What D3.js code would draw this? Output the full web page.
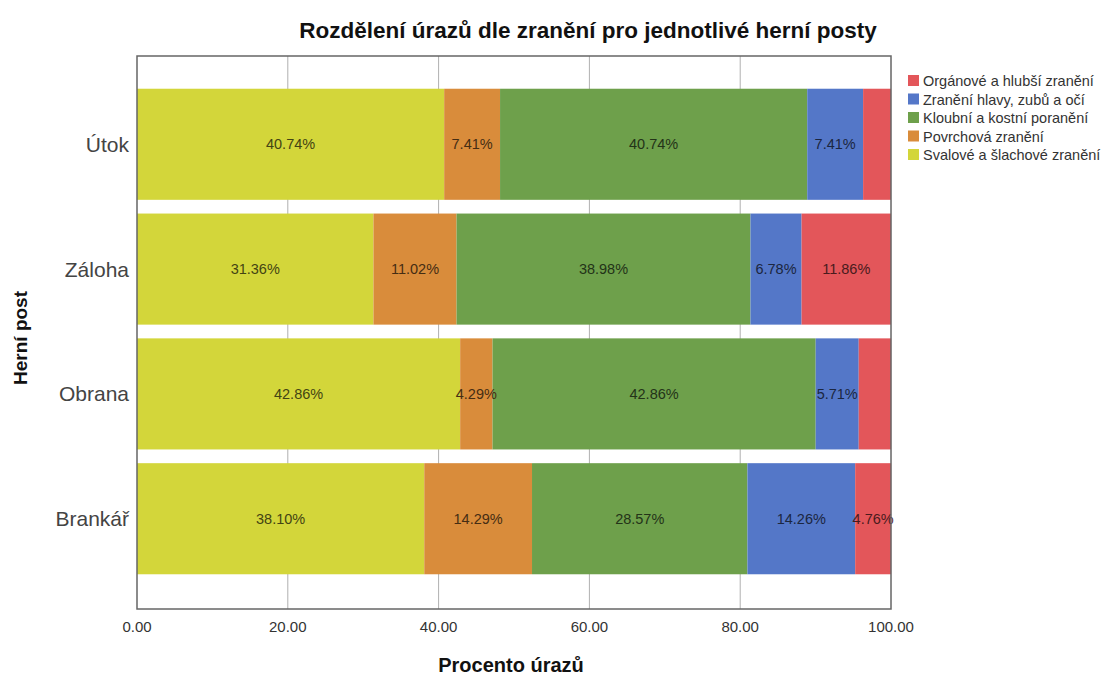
<!DOCTYPE html>
<html><head><meta charset="utf-8">
<script src="https://cdn.jsdelivr.net/npm/d3@7"></script>
<style>body{margin:0;background:#fff;font-family:"Liberation Sans",Arial,sans-serif;}</style>
</head><body><svg id="c" width="1119" height="677"></svg>
<script>
const positions = ["Útok", "Záloha", "Obrana", "Brankář"];
const seriesNames = ["Svalové a šlachové zranění", "Povrchová zranění", "Kloubní a kostní poranění", "Zranění hlavy, zubů a očí", "Orgánové a hlubší zranění"];
const svalove = [40.74, 31.36, 42.86, 38.10];
const povrchova = [7.41, 11.02, 4.29, 14.29];
const kloubni = [40.74, 38.98, 42.86, 28.57];
const hlava = [7.41, 6.78, 5.71, 14.29];
const organove = [3.70, 11.86, 4.29, 4.76];
const barLabels = [
  ["40.74%", "7.41%", "40.74%", "7.41%", ""],
  ["31.36%", "11.02%", "38.98%", "6.78%", "11.86%"],
  ["42.86%", "4.29%", "42.86%", "5.71%", ""],
  ["38.10%", "14.29%", "28.57%", "14.26%", "4.76%"]
];
const xTicks = [0, 20, 40, 60, 80, 100];
const colors = ["#d3d63a", "#d98c3b", "#6ea04b", "#5477c8", "#e3565a"];

const seriesValues = [svalove, povrchova, kloubni, hlava, organove];
const svg = d3.select("#c");
const L = 137, R = 891, T = 56, B = 609;
const x = d3.scaleLinear().domain([0, 100]).range([L, R]);
const y = d3.scaleBand().domain(positions).range([75, 588]).padding(0.11);

// gridlines
svg.append("g").selectAll("line").data(xTicks.slice(1, -1)).join("line")
  .attr("x1", d => x(d)).attr("x2", d => x(d)).attr("y1", T).attr("y2", B)
  .attr("stroke", "#b0b0b0").attr("stroke-width", 1);

// stacked bars
const rows = positions.map((p, i) => {
  let acc = 0;
  return seriesValues.map((s, k) => { const seg = {p, k, x0: acc, x1: acc + s[i], label: barLabels[i][k]}; acc += s[i]; return seg; });
});
const segs = rows.flat();
svg.append("g").selectAll("rect").data(segs).join("rect")
  .attr("x", d => x(d.x0)).attr("width", d => x(d.x1) - x(d.x0))
  .attr("y", d => y(d.p)).attr("height", y.bandwidth())
  .attr("fill", d => colors[d.k]);
svg.append("g").selectAll("text").data(segs.filter(d => d.label)).join("text")
  .attr("x", d => x((d.x0 + d.x1) / 2)).attr("y", d => y(d.p) + y.bandwidth() / 2)
  .attr("text-anchor", "middle").attr("dominant-baseline", "central")
  .attr("font-size", 14.5).attr("fill", d => d3.color(colors[d.k]).darker(3.2))
  .text(d => d.label);

// frame
svg.append("rect").attr("x", L).attr("y", T).attr("width", R - L).attr("height", B - T)
  .attr("fill", "none").attr("stroke", "#666").attr("stroke-width", 1.5);

// x tick labels
svg.append("g").selectAll("text").data(xTicks).join("text")
  .attr("x", d => x(d)).attr("y", 632).attr("text-anchor", "middle")
  .attr("font-size", 15).attr("fill", "#333").text(d => d.toFixed(2));

// y category labels
svg.append("g").selectAll("text").data(positions).join("text")
  .attr("x", 129).attr("y", d => y(d) + y.bandwidth() / 2)
  .attr("text-anchor", "end").attr("dominant-baseline", "central")
  .attr("font-size", 21).attr("fill", "#444").text(d => d);

// titles
svg.append("text").attr("x", 588).attr("y", 38).attr("text-anchor", "middle")
  .attr("font-size", 22.5).attr("font-weight", "bold").attr("fill", "#111")
  .text("Rozdělení úrazů dle zranění pro jednotlivé herní posty");
svg.append("text").attr("x", 511).attr("y", 672).attr("text-anchor", "middle")
  .attr("font-size", 20).attr("font-weight", "bold").attr("fill", "#111").text("Procento úrazů");
svg.append("text").attr("transform", "translate(27,338) rotate(-90)").attr("text-anchor", "middle")
  .attr("font-size", 19).attr("font-weight", "bold").attr("fill", "#111").text("Herní post");

// legend (reverse order)
const legOrder = [4, 3, 2, 1, 0];
const lg = svg.append("g").selectAll("g").data(legOrder).join("g")
  .attr("transform", (d, i) => `translate(908,${75 + i * 18.5})`);
lg.append("rect").attr("width", 11).attr("height", 11).attr("fill", d => colors[d]);
lg.append("text").attr("x", 15).attr("y", 6).attr("dominant-baseline", "central")
  .attr("font-size", 14.5).attr("fill", "#333").text(d => seriesNames[d]);
</script></body></html>
